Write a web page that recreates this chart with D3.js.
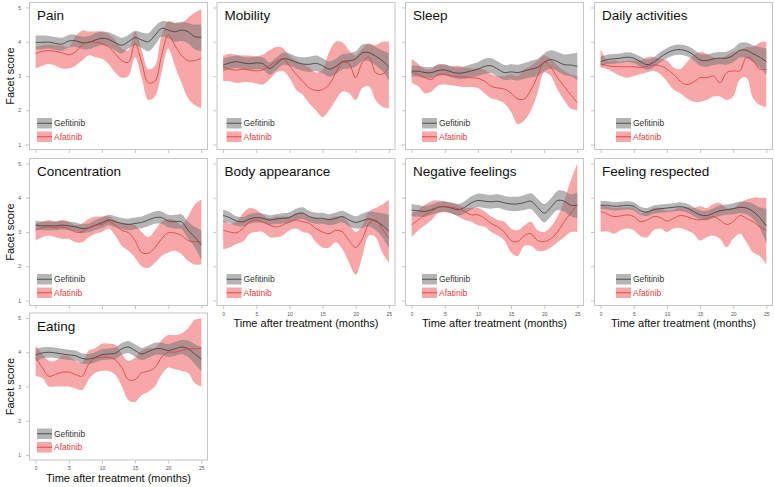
<!DOCTYPE html>
<html><head><meta charset="utf-8">
<script src="https://cdn.jsdelivr.net/npm/d3@7/dist/d3.min.js"></script>
<style>body{margin:0;background:#fff}svg{display:block}text{font-family:"Liberation Sans",Arial,sans-serif}</style>
</head><body><svg id="c" width="775" height="487"></svg>
<script>
const months = [0,1,2,3,4,5,6,7,8,9,10,11,12,13,14,15,16,17,18,19,20,21,22,23,24,25];
const facets = ["Pain","Mobility","Sleep","Daily activities","Concentration","Body appearance","Negative feelings","Feeling respected","Eating"];
const seriesNames = ["Gefitinib","Afatinib"];
const yTicks = [1,2,3,4,5];
const xTicks = [0,5,10,15,20,25];

// Pain
const painGef   = [3.98,3.98,3.99,3.95,3.93,4.02,4.03,3.97,3.98,4.05,4.10,4.07,3.97,3.90,4.00,4.12,4.05,4.00,4.19,4.39,4.34,4.29,4.34,4.29,4.15,4.13];
const painGefHi = [4.18,4.18,4.17,4.14,4.12,4.20,4.20,4.15,4.17,4.25,4.30,4.28,4.20,4.12,4.20,4.32,4.27,4.25,4.45,4.60,4.58,4.55,4.58,4.55,4.50,4.50];
const painGefLo = [3.78,3.78,3.80,3.76,3.74,3.83,3.85,3.79,3.78,3.85,3.90,3.86,3.74,3.66,3.80,3.90,3.82,3.72,3.90,4.15,4.10,4.00,4.02,3.95,3.78,3.72];
const painAfa   = [3.65,3.72,3.74,3.72,3.68,3.62,3.70,3.90,4.00,3.98,3.95,3.85,3.65,3.45,3.40,3.95,3.40,2.80,2.85,3.60,4.20,3.90,3.60,3.45,3.45,3.52];
const painAfaHi = [3.85,3.90,3.92,3.90,3.88,3.85,4.15,4.32,4.30,4.30,4.30,4.22,4.05,3.80,3.75,4.30,3.75,3.20,3.30,4.20,4.60,4.55,4.55,4.70,4.85,4.95];
const painAfaLo = [3.22,3.30,3.35,3.30,3.22,3.22,3.30,3.45,3.60,3.55,3.50,3.35,3.10,2.95,3.00,3.55,2.95,2.30,2.40,3.10,3.80,3.30,2.80,2.35,2.15,2.05];
// Mobility
const mobGef   = [3.32,3.38,3.42,3.38,3.36,3.38,3.36,3.22,3.35,3.50,3.48,3.40,3.35,3.34,3.37,3.30,3.20,3.28,3.42,3.44,3.50,3.68,3.68,3.58,3.45,3.27];
const mobGefHi = [3.50,3.56,3.60,3.56,3.54,3.56,3.54,3.40,3.53,3.68,3.66,3.58,3.55,3.56,3.60,3.52,3.42,3.50,3.64,3.66,3.72,3.92,3.93,3.85,3.75,3.67];
const mobGefLo = [3.14,3.20,3.24,3.20,3.18,3.20,3.18,3.04,3.17,3.32,3.30,3.22,3.15,3.12,3.14,3.08,2.98,3.06,3.20,3.22,3.28,3.44,3.43,3.31,3.15,2.87];
const mobAfa   = [3.27,3.20,3.17,3.20,3.17,3.15,3.18,3.30,3.42,3.50,3.30,3.05,2.85,2.65,2.58,2.60,2.75,3.10,3.40,3.35,2.95,3.40,3.55,3.10,3.05,3.25];
const mobAfaHi = [3.60,3.65,3.62,3.60,3.60,3.58,3.62,3.75,3.85,3.82,3.60,3.45,3.35,3.25,3.10,3.20,3.70,4.00,3.98,3.75,3.60,3.80,3.95,3.90,4.00,4.00];
const mobAfaLo = [2.85,2.85,2.80,2.82,2.82,2.78,2.75,2.90,3.10,3.15,2.95,2.60,2.45,2.20,2.00,1.80,2.00,2.30,2.55,2.50,2.30,2.65,2.70,2.30,2.10,2.05];
// Sleep
const sleGef   = [3.14,3.14,3.10,3.10,3.16,3.18,3.12,3.08,3.10,3.15,3.20,3.28,3.30,3.20,3.10,3.12,3.10,3.15,3.20,3.25,3.40,3.48,3.42,3.33,3.32,3.28];
const sleGefHi = [3.30,3.30,3.26,3.26,3.32,3.34,3.28,3.25,3.28,3.34,3.40,3.50,3.52,3.42,3.32,3.34,3.33,3.38,3.44,3.50,3.66,3.75,3.70,3.63,3.65,3.68];
const sleGefLo = [2.98,2.98,2.94,2.94,3.00,3.02,2.96,2.91,2.92,2.96,3.00,3.06,3.08,2.98,2.88,2.90,2.87,2.92,2.96,3.00,3.14,3.21,3.14,3.03,2.99,2.88];
const sleAfa   = [3.10,3.05,2.95,2.90,3.05,3.05,3.00,2.98,2.97,2.95,2.93,2.85,2.70,2.65,2.62,2.50,2.33,2.33,2.60,3.00,3.40,3.25,2.95,2.70,2.45,2.22];
const sleAfaHi = [3.50,3.35,3.20,3.20,3.35,3.32,3.28,3.30,3.25,3.22,3.22,3.18,3.05,3.00,3.00,3.05,3.00,3.20,3.30,3.45,3.60,3.50,3.30,3.15,3.05,3.00];
const sleAfaLo = [2.80,2.70,2.50,2.55,2.72,2.75,2.72,2.70,2.68,2.68,2.65,2.50,2.35,2.30,2.20,1.95,1.60,1.70,2.00,2.50,3.10,3.00,2.60,2.30,2.05,2.00];
// Daily activities
const dayGef   = [3.42,3.48,3.50,3.52,3.55,3.52,3.42,3.33,3.40,3.55,3.67,3.75,3.77,3.73,3.62,3.47,3.45,3.50,3.52,3.52,3.60,3.75,3.75,3.65,3.55,3.42];
const dayGefHi = [3.57,3.62,3.64,3.66,3.69,3.66,3.57,3.48,3.55,3.70,3.82,3.90,3.92,3.88,3.78,3.64,3.63,3.68,3.70,3.71,3.80,3.96,3.98,3.90,3.85,3.80];
const dayGefLo = [3.27,3.34,3.36,3.38,3.41,3.38,3.27,3.18,3.25,3.40,3.52,3.60,3.62,3.58,3.46,3.30,3.27,3.32,3.34,3.33,3.40,3.54,3.52,3.40,3.25,3.04];
const dayAfa   = [3.35,3.30,3.28,3.27,3.27,3.27,3.25,3.28,3.32,3.30,3.20,3.05,2.85,2.75,2.82,2.95,2.95,3.00,2.80,3.10,3.15,3.15,3.55,3.45,3.20,3.20];
const dayAfaHi = [3.80,3.45,3.45,3.42,3.45,3.45,3.45,3.55,3.55,3.50,3.45,3.25,3.20,3.40,3.60,3.70,3.65,3.55,3.50,3.60,3.70,3.75,3.85,3.85,3.98,4.00];
const dayAfaLo = [3.25,3.20,3.10,3.00,2.95,3.00,3.05,3.10,3.15,3.05,2.85,2.60,2.50,2.35,2.25,2.25,2.30,2.40,2.40,2.30,2.40,2.90,2.95,2.35,2.15,2.10];
// Concentration
const conGef   = [3.20,3.18,3.18,3.18,3.20,3.18,3.15,3.10,3.12,3.20,3.27,3.35,3.30,3.25,3.22,3.25,3.28,3.35,3.42,3.42,3.32,3.30,3.30,3.05,2.85,2.62];
const conGefHi = [3.33,3.31,3.31,3.31,3.33,3.31,3.28,3.23,3.25,3.34,3.42,3.50,3.46,3.41,3.39,3.42,3.45,3.53,3.60,3.60,3.50,3.50,3.52,3.30,3.15,3.05];
const conGefLo = [3.07,3.05,3.05,3.05,3.07,3.05,3.02,2.97,2.99,3.06,3.12,3.20,3.14,3.09,3.05,3.08,3.11,3.17,3.24,3.24,3.14,3.10,3.08,2.80,2.55,2.19];
const conAfa   = [3.05,3.12,3.15,3.12,3.15,3.10,3.00,3.00,3.12,3.20,3.22,3.30,3.20,3.05,2.98,2.75,2.40,2.38,2.55,2.80,2.98,2.97,2.90,2.75,2.72,2.70];
const conAfaHi = [3.25,3.30,3.35,3.30,3.35,3.30,3.20,3.25,3.38,3.45,3.45,3.45,3.35,3.25,3.25,3.20,3.00,2.85,3.05,3.30,3.38,3.35,3.20,3.45,3.80,3.95];
const conAfaLo = [2.75,2.85,2.90,2.85,2.80,2.80,2.70,2.70,2.85,2.95,3.00,3.10,2.90,2.60,2.45,2.25,2.00,1.95,2.10,2.30,2.40,2.45,2.35,2.15,2.05,2.05];
// Body appearance
const bodGef   = [3.48,3.42,3.32,3.30,3.38,3.42,3.40,3.35,3.38,3.40,3.42,3.52,3.55,3.45,3.40,3.40,3.36,3.40,3.45,3.35,3.28,3.33,3.38,3.32,3.20,3.02];
const bodGefHi = [3.66,3.58,3.46,3.44,3.52,3.56,3.54,3.49,3.52,3.55,3.58,3.68,3.72,3.61,3.56,3.56,3.52,3.57,3.62,3.53,3.46,3.54,3.60,3.58,3.55,3.50];
const bodGefLo = [3.30,3.26,3.18,3.16,3.24,3.28,3.26,3.21,3.24,3.25,3.26,3.36,3.38,3.29,3.24,3.24,3.20,3.23,3.28,3.17,3.10,3.12,3.16,3.06,2.85,2.54];
const bodAfa   = [3.05,3.00,2.98,3.10,3.30,3.35,3.30,3.20,3.15,3.20,3.30,3.35,3.30,3.25,3.10,3.00,2.95,3.05,3.00,2.75,2.55,2.80,3.25,3.35,3.10,2.80];
const bodAfaHi = [3.35,3.25,3.30,3.55,3.70,3.65,3.50,3.40,3.45,3.45,3.45,3.55,3.55,3.45,3.40,3.38,3.40,3.45,3.45,3.25,3.00,3.20,3.60,3.70,3.80,3.95];
const bodAfaLo = [2.50,2.55,2.65,2.72,2.95,3.00,3.00,2.85,2.85,2.90,3.05,3.10,3.00,2.95,2.70,2.55,2.55,2.70,2.50,2.10,1.75,2.30,2.90,2.85,2.40,2.10];
// Negative feelings
const negGef   = [3.64,3.62,3.60,3.65,3.72,3.74,3.70,3.65,3.72,3.85,3.92,3.90,3.88,3.90,3.85,3.82,3.82,3.86,3.90,3.72,3.55,3.72,3.92,3.90,3.78,3.78];
const negGefHi = [3.82,3.79,3.76,3.80,3.87,3.89,3.86,3.82,3.90,4.04,4.12,4.10,4.08,4.10,4.05,4.03,4.03,4.08,4.13,3.97,3.82,3.98,4.20,4.20,4.10,4.15];
const negGefLo = [3.46,3.45,3.44,3.50,3.57,3.59,3.54,3.48,3.54,3.66,3.72,3.70,3.68,3.70,3.65,3.61,3.61,3.64,3.67,3.47,3.28,3.46,3.64,3.60,3.46,3.41];
const negAfa   = [3.20,3.35,3.50,3.60,3.72,3.75,3.72,3.68,3.60,3.50,3.50,3.40,3.25,3.15,3.00,2.75,2.72,2.90,2.95,2.75,2.72,2.80,3.00,3.30,3.55,3.80];
const negAfaHi = [3.55,3.65,3.80,3.90,3.92,3.90,3.85,3.80,3.70,3.70,3.70,3.60,3.45,3.35,3.30,3.10,3.05,3.20,3.30,3.05,3.00,3.15,3.45,3.90,4.50,5.00];
const negAfaLo = [2.85,3.05,3.20,3.35,3.55,3.58,3.55,3.45,3.35,3.30,3.20,3.15,3.00,2.90,2.75,2.40,2.30,2.60,2.60,2.45,2.45,2.55,2.70,2.85,3.00,3.00];
// Feeling respected
const resGef   = [3.78,3.78,3.75,3.76,3.78,3.75,3.62,3.58,3.65,3.68,3.70,3.72,3.74,3.70,3.60,3.50,3.48,3.55,3.62,3.65,3.68,3.72,3.70,3.60,3.42,3.18];
const resGefHi = [3.90,3.90,3.87,3.88,3.90,3.87,3.74,3.70,3.77,3.80,3.82,3.84,3.87,3.83,3.73,3.63,3.62,3.69,3.77,3.80,3.84,3.89,3.88,3.82,3.72,3.68];
const resGefLo = [3.66,3.66,3.63,3.64,3.66,3.63,3.50,3.46,3.53,3.56,3.58,3.60,3.61,3.57,3.47,3.37,3.34,3.41,3.47,3.50,3.52,3.55,3.52,3.38,3.12,2.68];
const resAfa   = [3.60,3.52,3.45,3.47,3.50,3.45,3.30,3.35,3.45,3.42,3.32,3.40,3.48,3.45,3.38,3.35,3.40,3.45,3.35,3.22,3.30,3.48,3.40,3.30,3.15,3.05];
const resAfaHi = [3.80,3.75,3.70,3.72,3.72,3.70,3.55,3.60,3.70,3.70,3.62,3.65,3.72,3.72,3.70,3.75,3.70,3.82,3.85,3.70,3.70,3.85,3.95,4.00,4.00,4.00];
const resAfaLo = [3.00,3.02,2.95,3.05,3.10,3.05,2.88,2.85,3.05,3.10,3.00,3.10,3.12,3.05,2.95,2.75,2.85,2.90,2.80,2.55,2.80,2.95,2.70,2.40,2.30,2.05];
// Eating
const eatGef   = [3.92,3.98,4.00,3.98,3.95,3.92,3.90,3.82,3.80,3.85,3.93,3.95,3.97,4.10,4.15,4.05,3.95,4.02,4.10,4.10,4.05,4.10,4.15,4.10,3.95,3.80];
const eatGefHi = [4.10,4.14,4.15,4.13,4.10,4.07,4.05,3.97,3.95,4.00,4.09,4.11,4.14,4.27,4.33,4.23,4.13,4.20,4.28,4.28,4.24,4.30,4.36,4.34,4.24,4.15];
const eatGefLo = [3.74,3.82,3.85,3.83,3.80,3.77,3.75,3.67,3.65,3.70,3.77,3.79,3.80,3.93,3.97,3.87,3.77,3.84,3.92,3.92,3.86,3.90,3.94,3.86,3.66,3.45];
const eatAfa   = [3.85,3.55,3.30,3.35,3.42,3.42,3.35,3.30,3.65,3.82,3.85,3.85,3.78,3.55,3.20,3.20,3.40,3.45,3.55,3.85,4.00,4.00,4.05,4.10,4.10,4.12];
const eatAfaHi = [4.20,3.95,3.75,3.75,3.90,3.88,3.75,3.70,4.05,4.12,4.25,4.25,4.22,3.95,3.75,3.85,4.05,4.12,4.12,4.35,4.50,4.50,4.55,4.70,4.95,4.98];
const eatAfaLo = [3.30,3.25,3.00,3.00,3.00,3.00,2.95,2.90,3.20,3.40,3.45,3.45,3.35,3.00,2.60,2.55,2.75,2.85,3.00,3.35,3.55,3.50,3.45,3.40,3.10,3.00];

const panelData = [
  [painGef,painGefLo,painGefHi,painAfa,painAfaLo,painAfaHi],
  [mobGef,mobGefLo,mobGefHi,mobAfa,mobAfaLo,mobAfaHi],
  [sleGef,sleGefLo,sleGefHi,sleAfa,sleAfaLo,sleAfaHi],
  [dayGef,dayGefLo,dayGefHi,dayAfa,dayAfaLo,dayAfaHi],
  [conGef,conGefLo,conGefHi,conAfa,conAfaLo,conAfaHi],
  [bodGef,bodGefLo,bodGefHi,bodAfa,bodAfaLo,bodAfaHi],
  [negGef,negGefLo,negGefHi,negAfa,negAfaLo,negAfaHi],
  [resGef,resGefLo,resGefHi,resAfa,resAfaLo,resAfaHi],
  [eatGef,eatGefLo,eatGefHi,eatAfa,eatAfaLo,eatAfaHi]
];

const svg = d3.select("#c");
const colX = [29, 216.5, 405, 594];
const rowY = [2, 158, 312.5];
const pw = 179, ph = 148;
const legendOff = [8, 10, 17, 22];
const gefBand = "rgba(120,120,120,0.55)", afaBand = "rgba(240,95,95,0.55)";
const gefLine = "#444", afaLine = "#e23a3a";
const frame = "#c4c4c4";

const defs = svg.append("defs");

facets.forEach((name, i) => {
  const col = i % 4, row = Math.floor(i / 4);
  const left = colX[col], top = rowY[row];
  const x = d3.scaleLinear().domain([-1, 26]).range([left, left + pw]);
  const y = d3.scaleLinear().domain([0.84, 5.16]).range([top + ph, top]);
  const [gm, gl, gh, am, al, ah] = panelData[i];
  const g = svg.append("g");
  const cid = "clip" + i;
  defs.append("clipPath").attr("id", cid).append("rect")
    .attr("x", left).attr("y", top).attr("width", pw).attr("height", ph);

  // axes
  const ya = d3.axisLeft(y).tickValues(yTicks).tickSize(3).tickPadding(5)
    .tickFormat(col === 0 ? d3.format("d") : () => "");
  const yg = g.append("g").attr("transform", `translate(${left},0)`).call(ya);
  const isBottom = i + 4 >= facets.length;
  const xa = d3.axisBottom(x).tickValues(xTicks).tickSize(3).tickPadding(3)
    .tickFormat(isBottom ? d3.format("d") : () => "");
  const xg = g.append("g").attr("transform", `translate(0,${top + ph})`).call(xa);
  [yg, xg].forEach(a => {
    a.select(".domain").remove();
    a.selectAll(".tick line").attr("stroke", frame);
    a.selectAll(".tick text").attr("font-size", 5).attr("fill", "#555");
  });

  const plot = g.append("g").attr("clip-path", `url(#${cid})`);
  const area = (lo, hi) => d3.area().x((d, j) => x(months[j])).y0((d, j) => y(lo[j])).y1((d, j) => y(hi[j]))
    .curve(d3.curveCatmullRom.alpha(0.5));
  const line = d3.line().x((d, j) => x(months[j])).y(d => y(d)).curve(d3.curveCatmullRom.alpha(0.5));
  plot.append("path").attr("d", area(al, ah)(months)).attr("fill", afaBand);
  plot.append("path").attr("d", area(gl, gh)(months)).attr("fill", gefBand);
  plot.append("path").attr("d", line(gm)).attr("fill", "none").attr("stroke", gefLine).attr("stroke-width", 0.9);
  plot.append("path").attr("d", line(am)).attr("fill", "none").attr("stroke", afaLine).attr("stroke-width", 0.8);

  // frame
  g.append("rect").attr("x", left + 0.5).attr("y", top + 0.5).attr("width", pw - 1).attr("height", ph - 1)
    .attr("fill", "none").attr("stroke", frame).attr("stroke-width", 1);

  // title
  g.append("text").attr("x", left + 8).attr("y", top + 18).attr("font-size", 13.5).attr("fill", "#111").text(name);

  // legend
  const lx = left + legendOff[col];
  const items = [[seriesNames[0], gefBand, gefLine, "#333", top + 116], [seriesNames[1], afaBand, afaLine, "#e23a3a", top + 129.5]];
  items.forEach(([lab, band, ln, tc, ly]) => {
    g.append("rect").attr("x", lx).attr("y", ly).attr("width", 15).attr("height", 10.5).attr("fill", band);
    g.append("line").attr("x1", lx).attr("x2", lx + 15).attr("y1", ly + 5.25).attr("y2", ly + 5.25)
      .attr("stroke", ln).attr("stroke-width", 0.9);
    g.append("text").attr("x", lx + 17).attr("y", ly + 8.3).attr("font-size", 8.5).attr("fill", tc).text(lab);
  });

  if (isBottom) {
    g.append("text").attr("x", left + pw / 2).attr("y", top + ph + 21).attr("text-anchor", "middle")
      .attr("font-size", 11).attr("fill", "#111").text("Time after treatment (months)");
  }
});

// y-axis titles for each row
rowY.forEach(t => {
  svg.append("text").attr("transform", `translate(14,${t + ph / 2}) rotate(-90)`).attr("text-anchor", "middle")
    .attr("font-size", 11).attr("fill", "#111").text("Facet score");
});
</script></body></html>
